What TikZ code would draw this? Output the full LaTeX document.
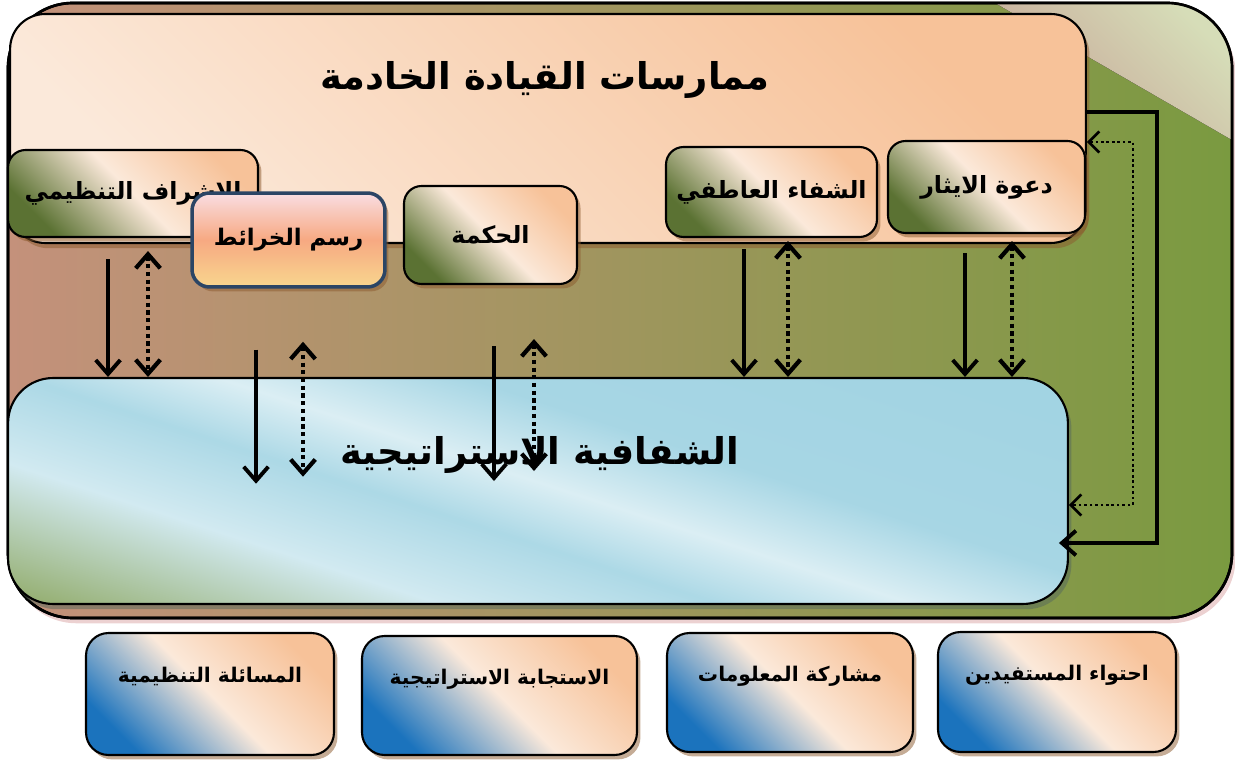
\documentclass[tikz,border=0pt]{standalone}
\usepackage{fontspec}
\newfontfamily\arabicfont[Script=Arabic]{DejaVu Sans}
\TeXXeTstate=1
\usetikzlibrary{arrows.meta,shadows}
\definecolor{peach}{HTML}{F7C299}
\definecolor{cream}{HTML}{FBE9DA}
\definecolor{olivebox}{HTML}{5B7233}
\definecolor{bluebox}{HTML}{1B73BD}
\definecolor{shadowbr}{HTML}{8C5A2E}
\definecolor{frameL}{HTML}{C4917B}
\definecolor{frameR}{HTML}{7A9A40}
\definecolor{cornerA}{HTML}{D6DDB8}
\definecolor{cornerB}{HTML}{C6A496}
\definecolor{skyA}{HTML}{9CD1E1}
\definecolor{skyB}{HTML}{D2EAF1}
\definecolor{grassA}{HTML}{86A052}
\definecolor{mapblue}{HTML}{2B4565}
\definecolor{mapA}{HTML}{F9DDE2}
\definecolor{mapB}{HTML}{F7A982}
\definecolor{mapC}{HTML}{F8D68E}
\definecolor{pinksh}{HTML}{D9A3A3}
\definecolor{greysh}{HTML}{56695C}
\pgfdeclareverticalshading{transpshade}{100bp}{color(0bp)=(grassA); color(16bp)=(grassA);
  color(34bp)=(skyB); color(44bp)=(skyA!70!skyB); color(51bp)=(skyB!80!white); color(60bp)=(skyA!80!skyB); color(100bp)=(skyA)}
\tikzset{
  boxbase/.style={draw, line width=1.2pt, rounded corners=0.35cm, align=center,
    drop shadow={shadow xshift=2pt, shadow yshift=-2.5pt, fill=shadowbr}},
  practice/.style={boxbase, top color=peach, bottom color=olivebox, middle color=cream,
    shading angle=-45, font=\arabicfont\bfseries\fontsize{13.5}{15}\selectfont},
  outcome/.style={boxbase, top color=peach, bottom color=bluebox, middle color=cream,
    shading angle=-45, text depth=0.75cm, rounded corners=0.45cm,
    font=\arabicfont\bfseries\fontsize{11.5}{13}\selectfont},
  headline/.style={font=\arabicfont\bfseries\fontsize{21}{25}\selectfont},
  sarr/.style={line width=2.2pt, -{Straight Barb[length=8pt,width=14pt]}},
  darr/.style={line width=2.4pt, dash pattern=on 2.4pt off 2pt,
    {Straight Barb[length=8pt,width=14pt]}-{Straight Barb[length=8pt,width=14pt]}},
  loopd/.style={line width=1.5pt, dash pattern=on 1.5pt off 1.6pt,
    {Straight Barb[length=6pt,width=12pt]}-{Straight Barb[length=6pt,width=12pt]}},
}

\begin{document}
\begin{tikzpicture}[x=0.02cm, y=-0.02cm]
  \useasboundingbox (0,0) rectangle (1235,760);
  % outer frame
  \draw[line width=1.5pt, rounded corners=1.3cm, left color=frameL, right color=frameR,
    drop shadow={shadow xshift=2pt, shadow yshift=-3pt, fill=pinksh}] (8,3) rectangle (1232,618);
  \begin{scope}
    \clip[rounded corners=1.3cm] (8,3) rectangle (1232,618);
    \fill[top color=cornerA, bottom color=cornerB, shading angle=-45] (995,3) -- (1232,140) -- (1232,3) -- cycle;
  \end{scope}
  \draw[line width=1.5pt, rounded corners=1.3cm] (8,3) rectangle (1232,618);

  % servant leadership practices
  \node[draw, line width=1.2pt, rounded corners=0.7cm, top color=peach, bottom color=cream,
    shading angle=-45, drop shadow={shadow xshift=2pt, shadow yshift=-3pt, fill=shadowbr},
    minimum width=21.52cm, minimum height=4.58cm] (practices) at (548,128.5) {};
  \node[headline] (practitle) at (545,80) {\beginR ممارسات القيادة الخادمة\endR};

  % strategic transparency
  \node[draw, line width=1.2pt, rounded corners=0.9cm, shading=transpshade, shading angle=-18,
    drop shadow={shadow xshift=2pt, shadow yshift=-3pt, fill=greysh},
    minimum width=21.2cm, minimum height=4.52cm] (transp) at (538,491) {};
  \node[headline] (transptitle) at (540,455) {\beginR الشفافية الاستراتيجية\endR};

  % practice boxes
  \node[practice, minimum width=5.0cm, minimum height=1.74cm] (ishraf) at (133,193.5) {\beginR الاشراف التنظيمي\endR};
  \node[boxbase, line width=2pt, draw=mapblue, top color=mapA, bottom color=mapC, middle color=mapB,
    font=\arabicfont\bfseries\fontsize{13}{15}\selectfont,
    minimum width=3.86cm, minimum height=1.88cm] (rasm) at (288.5,240) {\beginR رسم الخرائط\endR};
  \node[practice, minimum width=3.46cm, minimum height=1.96cm] (hikma) at (490.5,235) {\beginR الحكمة\endR};
  \node[practice, minimum width=4.22cm, minimum height=1.8cm] (shifa) at (771.5,192) {\beginR الشفاء العاطفي\endR};
  \node[practice, minimum width=3.94cm, minimum height=1.84cm] (ithar) at (986.5,187) {\beginR دعوة الايثار\endR};

  % arrows down to transparency
  \foreach \b/\sx/\sy/\dx/\dy in {ishraf/-0.5/-0.42/0.3/-0.26, shifa/-0.55/-0.22/0.33/-0.06, ithar/-0.43/-0.38/0.51/-0.14} {
    \draw[sarr] ([xshift=\sx cm, yshift=\sy cm]\b.south) -- ([xshift=\sx cm]\b.south |- transp.north);
    \draw[darr] ([xshift=\dx cm, yshift=\dy cm]\b.south) -- ([xshift=\dx cm]\b.south |- transp.north);
  }
  \draw[sarr] ([xshift=-0.65cm, yshift=-1.22cm]rasm.south) -- ([xshift=-0.65cm, yshift=-3.9cm]rasm.south);
  \draw[darr] ([xshift=0.29cm, yshift=-1.06cm]rasm.south) -- ([xshift=0.29cm, yshift=-3.76cm]rasm.south);
  \draw[sarr] ([xshift=0.07cm, yshift=-1.22cm]hikma.south) -- ([xshift=0.07cm, yshift=-3.92cm]hikma.south);
  \draw[darr] ([xshift=0.87cm, yshift=-1.08cm]hikma.south) -- ([xshift=0.87cm, yshift=-3.72cm]hikma.south);

  % feedback loop on the right
  \draw[sarr, rounded corners=0pt] (practices.east |- 0,112) -| (1157,543) -- ([xshift=-0.2cm]transp.east |- 0,543);
  \draw[loopd] (practices.east |- 0,142) -| (1133,505) -- (transp.east |- 0,505);

  % outcomes
  \node[outcome, minimum width=4.96cm, minimum height=2.44cm] (musa) at (210,694) {\beginR المسائلة التنظيمية\endR};
  \node[outcome, minimum width=5.5cm, minimum height=2.38cm] (istij) at (499.5,695.5) {\beginR الاستجابة الاستراتيجية\endR};
  \node[outcome, minimum width=4.92cm, minimum height=2.38cm] (musha) at (790,692.5) {\beginR مشاركة المعلومات\endR};
  \node[outcome, minimum width=4.76cm, minimum height=2.4cm] (ihtiwa) at (1057,692) {\beginR احتواء المستفيدين\endR};
\end{tikzpicture}
\end{document}
